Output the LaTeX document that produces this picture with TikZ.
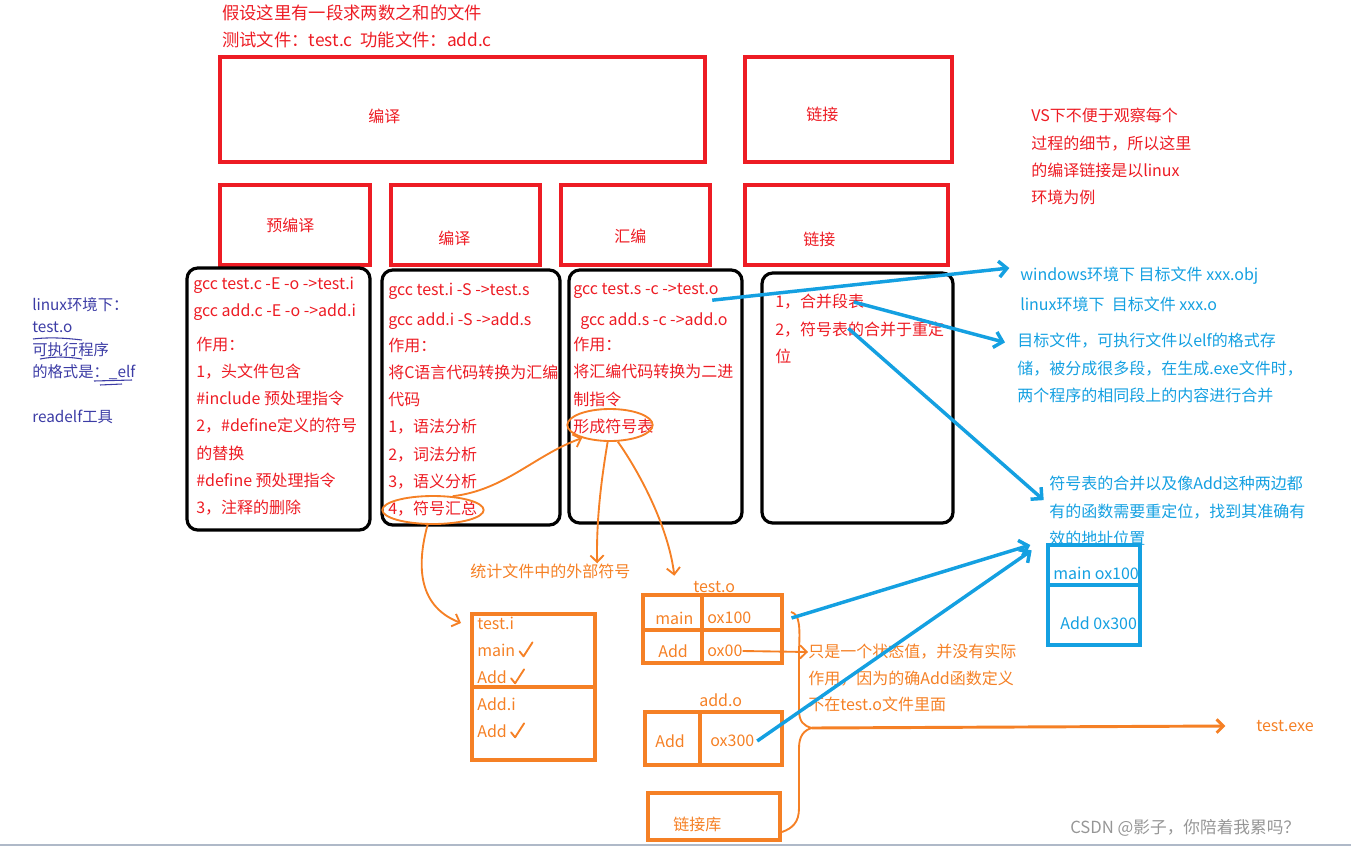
\documentclass[tikz,border=0pt]{standalone}
\usepackage{fontspec}
\setmainfont{Noto Sans CJK SC}
\usetikzlibrary{arrows.meta,positioning,calc,shapes.geometric}
\definecolor{RedInk}{RGB}{237,28,36}
\definecolor{BlueInk}{RGB}{20,160,225}
\definecolor{OrangeInk}{RGB}{245,128,37}
\definecolor{Indigo}{RGB}{60,60,165}
\definecolor{MarkGray}{RGB}{150,150,150}
\tikzset{
  redbox/.style={draw=RedInk,line width=2.6pt},
  stepbox/.style={draw=black,line width=2.4pt,rounded corners=8pt},
  redtxt/.style={text=RedInk,anchor=west,inner sep=0pt,align=left,font=\fontsize{12}{20.4}\selectfont},
  bluetxt/.style={text=BlueInk,anchor=west,inner sep=0pt,align=left,font=\fontsize{12}{20.4}\selectfont},
  orangetxt/.style={text=OrangeInk,anchor=west,inner sep=0pt,align=left,font=\fontsize{12}{20}\selectfont},
  notetxt/.style={text=Indigo,anchor=west,inner sep=0pt,align=left,font=\fontsize{11.5}{16.7}\selectfont},
  orangebox/.style={draw=OrangeInk,line width=2.8pt},
  ring/.style={ellipse,draw=OrangeInk,line width=1.4pt,inner sep=0pt},
  bluearrow/.style={draw=BlueInk,line width=2.6pt,-{Straight Barb[length=6pt,width=12pt]}},
  orangearrow/.style={draw=OrangeInk,line width=1.4pt,-{Straight Barb[length=5pt,width=10pt]}},
  orangeline/.style={draw=OrangeInk,line width=1.4pt},
  tick/.style={draw=OrangeInk,line width=1.4pt,line cap=round,line join=round}
}

\begin{document}
\begin{tikzpicture}[x=0.75pt,y=-0.75pt]
\useasboundingbox (0,0) rectangle (1351,846);

% headline
\node[redtxt,font=\fontsize{13}{16}\selectfont] (head1) at (222,13) {假设这里有一段求两数之和的文件};
\node[redtxt,font=\fontsize{13}{16}\selectfont] (head2) at (222,40) {测试文件：test.c\ \ 功能文件：add.c};

% stages
\draw[redbox] (220,57) rectangle (705,162);
\draw[redbox] (745,57) rectangle (952,162);
\draw[redbox] (220,185) rectangle (370,265);
\draw[redbox] (391,185) rectangle (540,265);
\draw[redbox] (561,185) rectangle (710,265);
\draw[redbox] (745,185) rectangle (948,265);
\node[redtxt] (compile) at (368,116) {编译};
\node[redtxt] (link) at (806,114) {链接};
\node[redtxt] (prep) at (266,225) {预编译};
\node[redtxt] (comp) at (438,238) {编译};
\node[redtxt] (asm) at (614,236) {汇编};
\node[redtxt] (ld) at (803,239) {链接};

\draw[stepbox] (187,268) rectangle (370,530);
\draw[stepbox] (382,270) rectangle (560,525);
\draw[stepbox] (569,270) rectangle (742,523);
\draw[stepbox] (762,273) rectangle (953,523);

\node[redtxt] (t1a) at (193,285) {gcc test.c -E -o ->test.i};
\node[redtxt] (t1b) at (193,312) {gcc add.c -E -o ->add.i};
\node[redtxt] (t1c) at (196,426) {作用：\\1，头文件包含\\\#include 预处理指令\\2，\#define定义的符号\\的替换\\\#define 预处理指令\\3，注释的删除};

\node[redtxt] (t2a) at (388,291) {gcc test.i -S ->test.s};
\node[redtxt] (t2b) at (388,321) {gcc add.i -S ->add.s};
\node[redtxt] (t2c) at (388,427) {作用：\\将C语言代码转换为汇编\\代码\\1，语法分析\\2，词法分析\\3，语义分析\\4，符号汇总};

\node[redtxt] (t3a) at (573,291) {gcc test.s -c ->test.o};
\node[redtxt] (t3b) at (580,321) {gcc add.s -c ->add.o};
\node[redtxt] (t3c) at (573,385.5) {作用：\\将汇编代码转换为二进\\制指令\\形成符号表};

\node[redtxt] (l1) at (775,302) {1，合并段表};
\node[redtxt] (l2) at (775,343) {2，符号表的合并于重定\\位};

\node[redtxt] (vs) at (1031,156.5) {VS下不便于观察每个\\过程的细节，所以这里\\的编译链接是以linux\\环境为例};

% left notes
\node[notetxt] (elfnote) at (32,338.5) {linux环境下：\\test.o\\可执行程序\\的格式是：\_elf};
\node[notetxt] (readelf) at (32,417) {readelf工具};
\draw[Indigo,line width=0.8pt] (33,339) .. controls (50,337) and (65,338) .. (82,340);
\draw[Indigo,line width=0.8pt] (40,359) .. controls (55,356) and (70,357) .. (82,359);
\draw[Indigo,line width=0.8pt] (94,381) -- (132,380);
\draw[Indigo,line width=0.8pt] (100,385) -- (122,384);

% right side notes
\node[bluetxt] (win) at (1020,276) {windows环境下 目标文件 xxx.obj};
\node[bluetxt] (lnx) at (1020,304) {linux环境下\ \ 目标文件 xxx.o};
\node[bluetxt] (objp) at (1017,368) {目标文件，可执行文件以elf的格式存\\储，被分成很多段，在生成.exe文件时，\\两个程序的相同段上的内容进行合并};
\node[bluetxt] (symp) at (1049,511) {符号表的合并以及像Add这种两边都\\有的函数需要重定位，找到其准确有\\效的地址位置};

% merged table
\draw[draw=BlueInk,line width=3pt] (1048,545) rectangle (1140,645);
\draw[draw=BlueInk,line width=3pt] (1048,585) -- (1140,585);
\begin{scope}
\clip (1050,547) rectangle (1138,643);
\node[bluetxt] (m1) at (1053,573) {main ox100};
\node[bluetxt] (m2) at (1060,623) {Add 0x300};
\end{scope}

% symbol marks
\node[ring,minimum width=76pt,minimum height=21pt] (sumring) at (433,510) {};
\node[ring,minimum width=64pt,minimum height=24pt] (symring) at (610,425) {};
\node[orangetxt] (ext) at (470,571) {统计文件中的外部符号};

% test.i
\draw[orangebox] (472,614) rectangle (595,760);
\draw[orangebox] (472,687) -- (595,687);
\node[orangetxt] (ti1) at (477,623) {test.i};
\node[orangetxt] (ti2) at (477,650) {main};
\node[orangetxt] (ti3) at (477,677) {Add};
\node[orangetxt] (ti4) at (477,704) {Add.i};
\node[orangetxt] (ti5) at (477,731) {Add};
\foreach \n in {ti2,ti3,ti5}
  \draw[tick] ([xshift=3pt,yshift=-1pt]\n.east) -- ++(4,5) -- ++(9,-14);

% test.o
\node[orangetxt] (olab) at (693,587) {test.o};
\draw[orangebox] (643,595) rectangle (782,663);
\draw[orangebox] (702,595) -- (702,663);
\draw[orangebox] (643,630) -- (782,630);
\node[orangetxt] (c1) at (655,618) {main};
\node[orangetxt] (c2) at (707,618) {ox100};
\node[orangetxt] (c3) at (658,651) {Add};
\node[orangetxt] (c4) at (707,651) {ox00};

% add.o
\node[orangetxt] (alab) at (699,700) {add.o};
\draw[orangebox] (645,712) rectangle (782,765);
\draw[orangebox] (700,712) -- (700,767);
\node[orangetxt] (c5) at (655,741) {Add};
\node[orangetxt] (c6) at (710,741) {ox300};

% library
\draw[orangebox] (648,793) rectangle (780,840);
\node[orangetxt] (lib) at (673,824) {链接库};

\node[orangetxt] (why) at (808,678) {只是一个状态值，并没有实际\\作用，因为的确Add函数定义\\不在test.o文件里面};
\node[orangetxt] (exe) at (1256,726) {test.exe};

\coordinate (bnotch) at (808,652);
\coordinate (btip) at (812,728);
\draw[orangeline] (791,612) .. controls (800,614) and (800,628) .. (799,650) -- (799,710)
  .. controls (799,722) and (804,726) .. (btip)
  .. controls (804,730) and (799,736) .. (799,748) -- (799,808)
  .. controls (799,822) and (793,828) .. (782,832);

% orange arrows
\draw[orangearrow] (sumring.35) .. controls (505,490) and (535,455) .. (symring.205);
\draw[orangearrow] (sumring.250) .. controls (418,560) and (415,605) .. ([xshift=-12pt]ti1.west);
\draw[orangearrow] (symring.262) .. controls (603,470) and (596,515) .. ([xshift=-25pt]ext.north east);
\draw[orangearrow] (symring.295) .. controls (638,470) and (668,525) .. ([xshift=-14pt,yshift=4pt]olab.north west);
\draw[orangearrow] (c4.east) -- (bnotch);
\draw[orangearrow,line width=2.2pt] (btip) -- ([xshift=-23pt]exe.west);

% blue arrows
\draw[bluearrow] ([xshift=-5pt,yshift=-1pt]t3a.south east) -- ([xshift=-8pt,yshift=6pt]win.west);
\draw[bluearrow] ([xshift=-8pt]l1.east) -- ([xshift=-9pt,yshift=-7pt]objp.north west);
\draw[bluearrow] ([xshift=55pt,yshift=-5pt]l2.north west) -- ([xshift=-4pt,yshift=-18pt]symp.north west);
\draw[bluearrow] ([xshift=30pt]c2.east) -- ([xshift=-17pt,yshift=21pt]m1.west);
\draw[bluearrow] ([xshift=2pt]c6.east) -- ([xshift=-16pt,yshift=17pt]m1.west);

% watermark
\node[text=MarkGray,anchor=west,inner sep=0pt,font=\fontsize{12.5}{15}\selectfont] (mark) at (1070,828) {CSDN @影子，你陪着我累吗？};
\draw[draw={rgb,255:red,175;green,185;blue,200},line width=1.5pt] (0,845) -- (1351,845);
\end{tikzpicture}
\end{document}
